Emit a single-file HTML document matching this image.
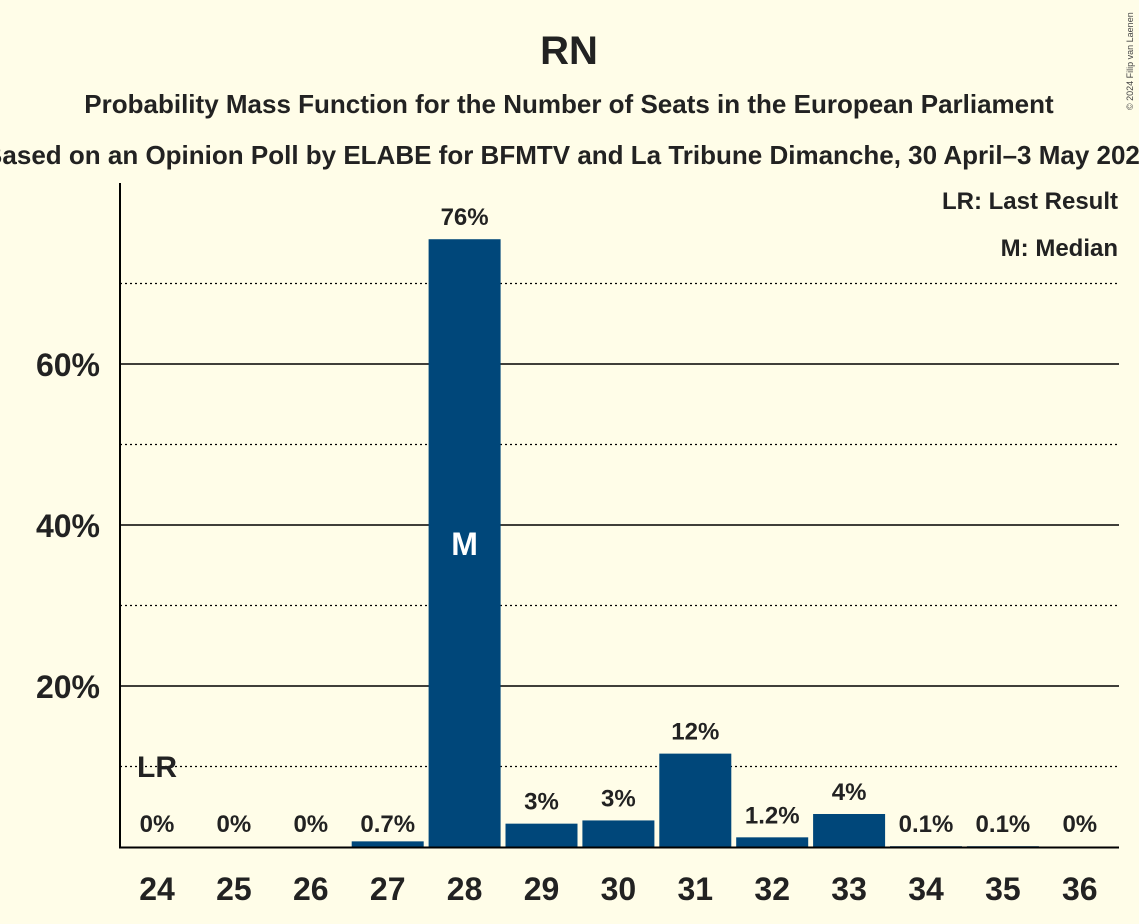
<!DOCTYPE html>
<html><head><meta charset="utf-8"><style>
body{margin:0;background:#fffde8;}
svg{display:block;font-family:"Liberation Sans",sans-serif;}
</style></head><body>
<svg id="chart" width="1139" height="924">
<rect width="1139" height="924" fill="#fffde8"/>
<text x="569" y="64" text-anchor="middle" font-size="40" font-weight="bold" fill="#222">RN</text>
<text x="569" y="113" text-anchor="middle" font-size="26" font-weight="bold" fill="#222">Probability Mass Function for the Number of Seats in the European Parliament</text>
<text x="569" y="164" text-anchor="middle" font-size="26" font-weight="bold" fill="#222">Based on an Opinion Poll by ELABE for BFMTV and La Tribune Dimanche, 30 April–3 May 2024</text>
<text x="1133" y="110" font-size="9" fill="#444" transform="rotate(-90 1133 110)">© 2024 Filip van Laenen</text>
<g id="grid"></g>
<g id="bars"></g>
<line x1="120" y1="183" x2="120" y2="848" stroke="#000" stroke-width="2"/>
<line x1="119" y1="847.5" x2="1119" y2="847.5" stroke="#000" stroke-width="2"/>
<text x="1118" y="209" text-anchor="end" font-size="24" font-weight="bold" fill="#222">LR: Last Result</text>
<text x="1118" y="256" text-anchor="end" font-size="24" font-weight="bold" fill="#222">M: Median</text>
</svg>
<script>
const seats=[24,25,26,27,28,29,30,31,32,33,34,35,36];
const probs=[0,0,0,0.7,75.5,2.9,3.3,11.6,1.2,4.1,0.1,0.1,0];
const labels=["0%","0%","0%","0.7%","76%","3%","3%","12%","1.2%","4%","0.1%","0.1%","0%"];
const yTicks=[20,40,60];
const yDotted=[10,30,50,70];
const lastResult=24, median=28;
const NS="http://www.w3.org/2000/svg";
const y=v=>847-v*8.05;
const x=i=>157+i*76.9;
const grid=document.getElementById('grid'),bars=document.getElementById('bars');
function mk(t,a,p){const e=document.createElementNS(NS,t);for(const k in a)e.setAttribute(k,a[k]);p.appendChild(e);return e;}
yDotted.forEach(v=>{const l=mk('line',{x1:120,x2:1119,y1:y(v),y2:y(v),stroke:'#000','stroke-width':1.2,'stroke-dasharray':'2,3'},grid);

});
yTicks.forEach(v=>{const l=mk('line',{x1:120,x2:1119,y1:y(v),y2:y(v),stroke:'#000','stroke-width':1.5},grid);


const t=mk('text',{x:100,y:y(v)+12,'text-anchor':'end','font-size':32,'font-weight':'bold',fill:'#222'},grid);t.textContent=v+'%';

});
seats.forEach((s,i)=>{const cx=x(i),v=probs[i];
if(v>0){const r=mk('rect',{x:cx-36,y:y(v),width:72,height:847-y(v),fill:'#00477a'},bars);

}
const lt=mk('text',{x:cx,y:y(v)-14,'text-anchor':'middle','font-size':24,'font-weight':'bold',fill:'#222'},bars);lt.textContent=labels[i];
if(v<1)lt.setAttribute('y',832);


const xt=mk('text',{x:cx,y:900,'text-anchor':'middle','font-size':32,'font-weight':'bold',fill:'#222'},bars);xt.textContent=s;


if(s===median){const m=mk('text',{x:cx,y:y(v/2)+12,'text-anchor':'middle','font-size':32,'font-weight':'bold',fill:'#fff'},bars);m.textContent='M';

}
if(s===lastResult){const m=mk('text',{x:cx,y:777,'text-anchor':'middle','font-size':30,'font-weight':'bold',fill:'#222'},bars);m.textContent='LR';

}
});
</script>
</body></html>
